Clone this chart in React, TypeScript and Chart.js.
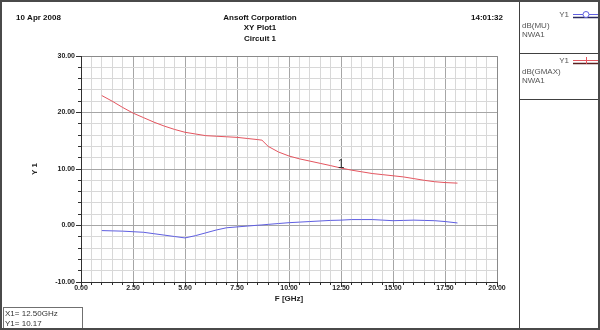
import { useEffect, useRef } from "react";
import { Chart, registerables } from "chart.js";

Chart.register(...registerables);

// ---- data ----
const freqGHz = [1, 1.5, 2, 2.5, 3, 3.5, 4, 4.5, 5, 5.5, 6, 6.5, 7, 7.5, 8, 8.5, 8.7, 9, 9.5, 10, 10.5, 11, 11.5, 12, 12.5, 13, 13.5, 14, 14.5, 15, 15.5, 16, 16.5, 17, 17.5, 18.1];
const dbGmax = [23.0, 22.0, 20.9, 19.9, 19.1, 18.3, 17.6, 17.0, 16.5, 16.2, 15.9, 15.8, 15.7, 15.6, 15.4, 15.2, 15.1, 14.0, 13.0, 12.3, 11.8, 11.4, 11.0, 10.6, 10.17, 9.8, 9.5, 9.2, 9.0, 8.8, 8.6, 8.3, 8.0, 7.75, 7.6, 7.5];
const dbMu = [-0.9, -0.95, -1.0, -1.1, -1.2, -1.45, -1.7, -1.95, -2.2, -1.8, -1.3, -0.8, -0.4, -0.25, -0.1, 0.05, 0.1, 0.2, 0.35, 0.5, 0.6, 0.7, 0.8, 0.9, 0.95, 1.05, 1.05, 1.05, 0.95, 0.85, 0.9, 0.95, 0.9, 0.85, 0.7, 0.45];

const xTickLabels = ["0.00", "2.50", "5.00", "7.50", "10.00", "12.50", "15.00", "17.50", "20.00"];
const yTickLabels = ["-10.00", "0.00", "10.00", "20.00", "30.00"];
const xMinorStep = 0.5;
const yMinorStep = 2;

const markerFreq = 12.5;
const markerValue = 10.17;
const markerName = "1";

const headerDate = "10 Apr 2008";
const headerTitle = ["Ansoft Corporation", "XY Plot1", "Circuit 1"];
const headerTime = "14:01:32";
const xTitle = "F [GHz]";
const yTitle = "Y 1";
const legendNames = ["dB(MU)", "dB(GMAX)"];
const legendAxis = ["Y1", "Y1"];
const legendSweep = ["NWA1", "NWA1"];

const BLUE = "rgb(95,95,225)";
const RED = "rgb(228,85,95)";
const FONT = "'Liberation Sans', Arial, sans-serif";

const xMajor = xTickLabels.map(parseFloat);
const yMajor = yTickLabels.map(parseFloat);
const xMin = xMajor[0], xMax = xMajor[xMajor.length - 1];
const yMin = yMajor[0], yMax = yMajor[yMajor.length - 1];

function stepValues(min: number, max: number, step: number) {
  const out: number[] = [];
  const n = Math.round((max - min) / step);
  for (let i = 0; i <= n; i++) out.push(+(min + i * step).toFixed(6));
  return out;
}
const isIn = (arr: number[], v: number) => arr.some((a) => Math.abs(a - v) < 1e-6);
const labelFor = (arr: number[], labels: string[], v: number) => {
  const i = arr.findIndex((a) => Math.abs(a - v) < 1e-6);
  return i >= 0 ? labels[i] : "";
};

const decorPlugin = {
  id: "decor",
  beforeDraw(chart: any) {
    const ctx = chart.ctx;
    ctx.save();
    ctx.fillStyle = "#ffffff";
    ctx.fillRect(0, 0, chart.width, chart.height);
    ctx.restore();
  },
  afterDraw(chart: any) {
    const ctx = chart.ctx;
    const xs = chart.scales.x;
    const ys = chart.scales.y;
    const { left, right, top, bottom } = chart.chartArea;
    ctx.save();

    // plot border top/right
    ctx.strokeStyle = "#8a8a8a";
    ctx.lineWidth = 1;
    ctx.beginPath();
    ctx.moveTo(Math.floor(left) + 0.5, Math.floor(top) + 0.5);
    ctx.lineTo(Math.floor(right) + 0.5, Math.floor(top) + 0.5);
    ctx.lineTo(Math.floor(right) + 0.5, Math.floor(bottom) + 0.5);
    ctx.stroke();

    // axes
    ctx.strokeStyle = "#303030";
    ctx.beginPath();
    ctx.moveTo(Math.floor(left) + 0.5, Math.floor(top));
    ctx.lineTo(Math.floor(left) + 0.5, Math.floor(bottom) + 1);
    ctx.moveTo(Math.floor(left), Math.floor(bottom) + 0.5);
    ctx.lineTo(Math.floor(right) + 1, Math.floor(bottom) + 0.5);
    // y ticks
    for (const v of stepValues(yMin, yMax, yMinorStep)) {
      const py = Math.floor(ys.getPixelForValue(v)) + 0.5;
      const len = isIn(yMajor, v) ? 5 : 3;
      ctx.moveTo(Math.floor(left) - len, py);
      ctx.lineTo(Math.floor(left), py);
    }
    // x ticks
    for (const v of stepValues(xMin, xMax, xMinorStep)) {
      const px = Math.floor(xs.getPixelForValue(v)) + 0.5;
      const len = isIn(xMajor, v) ? 4 : 2;
      ctx.moveTo(px, Math.floor(bottom) + 1);
      ctx.lineTo(px, Math.floor(bottom) + 1 + len);
    }
    ctx.stroke();

    // axis titles
    ctx.fillStyle = "#222";
    ctx.font = `bold 8px ${FONT}`;
    ctx.textAlign = "center";
    ctx.textBaseline = "middle";
    ctx.fillText(xTitle, (left + right) / 2, 299);
    ctx.save();
    ctx.translate(35, (top + bottom) / 2);
    ctx.rotate(-Math.PI / 2);
    ctx.fillText(yTitle, 0, 0);
    ctx.restore();

    // marker
    const mx = xs.getPixelForValue(markerFreq);
    const my = ys.getPixelForValue(markerValue);
    ctx.fillStyle = "#333";
    ctx.font = `12px ${FONT}`;
    ctx.textAlign = "center";
    ctx.textBaseline = "alphabetic";
    ctx.fillText(markerName, mx, my - 0.5);

    // headers
    ctx.fillStyle = "#111";
    ctx.font = `bold 8px ${FONT}`;
    ctx.textBaseline = "middle";
    ctx.textAlign = "left";
    ctx.fillText(headerDate, 16, 18);
    ctx.textAlign = "right";
    ctx.fillText(headerTime, 503, 18);
    ctx.textAlign = "center";
    headerTitle.forEach((t, i) => ctx.fillText(t, 260, 18 + i * 10.2));

    // legend panel
    ctx.strokeStyle = "#404040";
    ctx.lineWidth = 1;
    ctx.beginPath();
    ctx.moveTo(519.5, 0);
    ctx.lineTo(519.5, 330);
    ctx.moveTo(519.5, 53.5);
    ctx.lineTo(600, 53.5);
    ctx.moveTo(519.5, 99.5);
    ctx.lineTo(600, 99.5);
    ctx.stroke();

    const rowsTop = [0, 46];
    legendNames.forEach((name, i) => {
      const y0 = rowsTop[i];
      ctx.fillStyle = "#555";
      ctx.font = `8px ${FONT}`;
      ctx.textAlign = "right";
      ctx.textBaseline = "middle";
      ctx.fillText(legendAxis[i], 569, y0 + 15);
      ctx.textAlign = "left";
      ctx.fillText(name, 522, y0 + 26);
      ctx.fillText(legendSweep[i], 522, y0 + 35);
      const col = i === 0 ? BLUE : RED;
      ctx.strokeStyle = col;
      ctx.lineWidth = 1;
      ctx.beginPath();
      ctx.moveTo(573, y0 + 14.5);
      ctx.lineTo(600, y0 + 14.5);
      ctx.stroke();
      ctx.strokeStyle = i === 0 ? "#2a2a60" : "#5a2020";
      ctx.lineWidth = 1.5;
      ctx.beginPath();
      ctx.moveTo(573, y0 + 17.5);
      ctx.lineTo(600, y0 + 17.5);
      ctx.stroke();
      ctx.strokeStyle = col;
      ctx.lineWidth = 1;
      if (i === 0) {
        ctx.fillStyle = "#fff";
        ctx.beginPath();
        ctx.arc(586, y0 + 14.5, 3, 0, Math.PI * 2);
        ctx.fill();
        ctx.stroke();
      } else {
        ctx.beginPath();
        ctx.moveTo(586.5, y0 + 11);
        ctx.lineTo(586.5, y0 + 18);
        ctx.stroke();
      }
    });

    // marker info box
    ctx.strokeStyle = "#707070";
    ctx.lineWidth = 1;
    ctx.strokeRect(3.5, 307.5, 79, 30);
    ctx.fillStyle = "#333";
    ctx.font = `8px ${FONT}`;
    ctx.textAlign = "left";
    ctx.textBaseline = "middle";
    ctx.fillText(`X1= ${markerFreq.toFixed(2)}GHz`, 5, 313.5);
    ctx.fillText(`Y1= ${markerValue.toFixed(2)}`, 5, 323.5);

    // outer frame
    ctx.strokeStyle = "#4a4a4a";
    ctx.lineWidth = 2;
    ctx.strokeRect(1, 1, 598, 328);

    ctx.restore();
  },
};

export default function App() {
  const ref = useRef<HTMLCanvasElement>(null);
  useEffect(() => {
    document.body.style.margin = "0";
    const canvas = ref.current!;
    const chart = new Chart(canvas, {
      type: "line",
      data: {
        datasets: [
          {
            label: legendNames[0],
            data: freqGHz.map((f, i) => ({ x: f, y: dbMu[i] })),
            borderColor: BLUE,
            borderWidth: 1,
            pointRadius: 0,
            tension: 0,
            fill: false,
          },
          {
            label: legendNames[1],
            data: freqGHz.map((f, i) => ({ x: f, y: dbGmax[i] })),
            borderColor: RED,
            borderWidth: 1,
            pointRadius: 0,
            tension: 0,
            fill: false,
          },
        ],
      },
      options: {
        animation: false,
        responsive: false,
        devicePixelRatio: 1,
        layout: { padding: { left: 0, top: 56, right: 103, bottom: 0 } },
        plugins: { legend: { display: false }, tooltip: { enabled: false } },
        scales: {
          x: {
            type: "linear",
            min: xMin,
            max: xMax,
            afterFit: (s: any) => { s.height = 48; },
            afterBuildTicks: (s: any) => {
              s.ticks = stepValues(xMin, xMax, xMinorStep).map((v) => ({ value: v }));
            },
            ticks: {
              autoSkip: false,
              maxRotation: 0,
              minRotation: 0,
              padding: 2,
              color: "#222",
              font: { family: FONT, size: 7, weight: "bold" },
              callback: (v: any) => labelFor(xMajor, xTickLabels, Number(v)),
            },
            grid: {
              drawTicks: false,
              lineWidth: 1,
              color: (c: any) => (c.tick && isIn(xMajor, c.tick.value) ? "#a6a6a6" : "#d8d8d8"),
            },
            border: { display: false },
          },
          y: {
            type: "linear",
            min: yMin,
            max: yMax,
            afterFit: (s: any) => { s.width = 81; },
            afterBuildTicks: (s: any) => {
              s.ticks = stepValues(yMin, yMax, yMinorStep).map((v) => ({ value: v }));
            },
            ticks: {
              autoSkip: false,
              padding: 6,
              color: "#222",
              font: { family: FONT, size: 7, weight: "bold" },
              callback: (v: any) => labelFor(yMajor, yTickLabels, Number(v)),
            },
            grid: {
              drawTicks: false,
              lineWidth: 1,
              color: (c: any) => (c.tick && isIn(yMajor, c.tick.value) ? "#a6a6a6" : "#d8d8d8"),
            },
            border: { display: false },
          },
        },
      },
      plugins: [decorPlugin],
    } as any);
    return () => chart.destroy();
  }, []);
  return (
    <div style={{ position: "fixed", left: 0, top: 0, width: 600, height: 330 }}>
      <canvas ref={ref} width={600} height={330} style={{ display: "block", width: 600, height: 330 }} />
    </div>
  );
}
